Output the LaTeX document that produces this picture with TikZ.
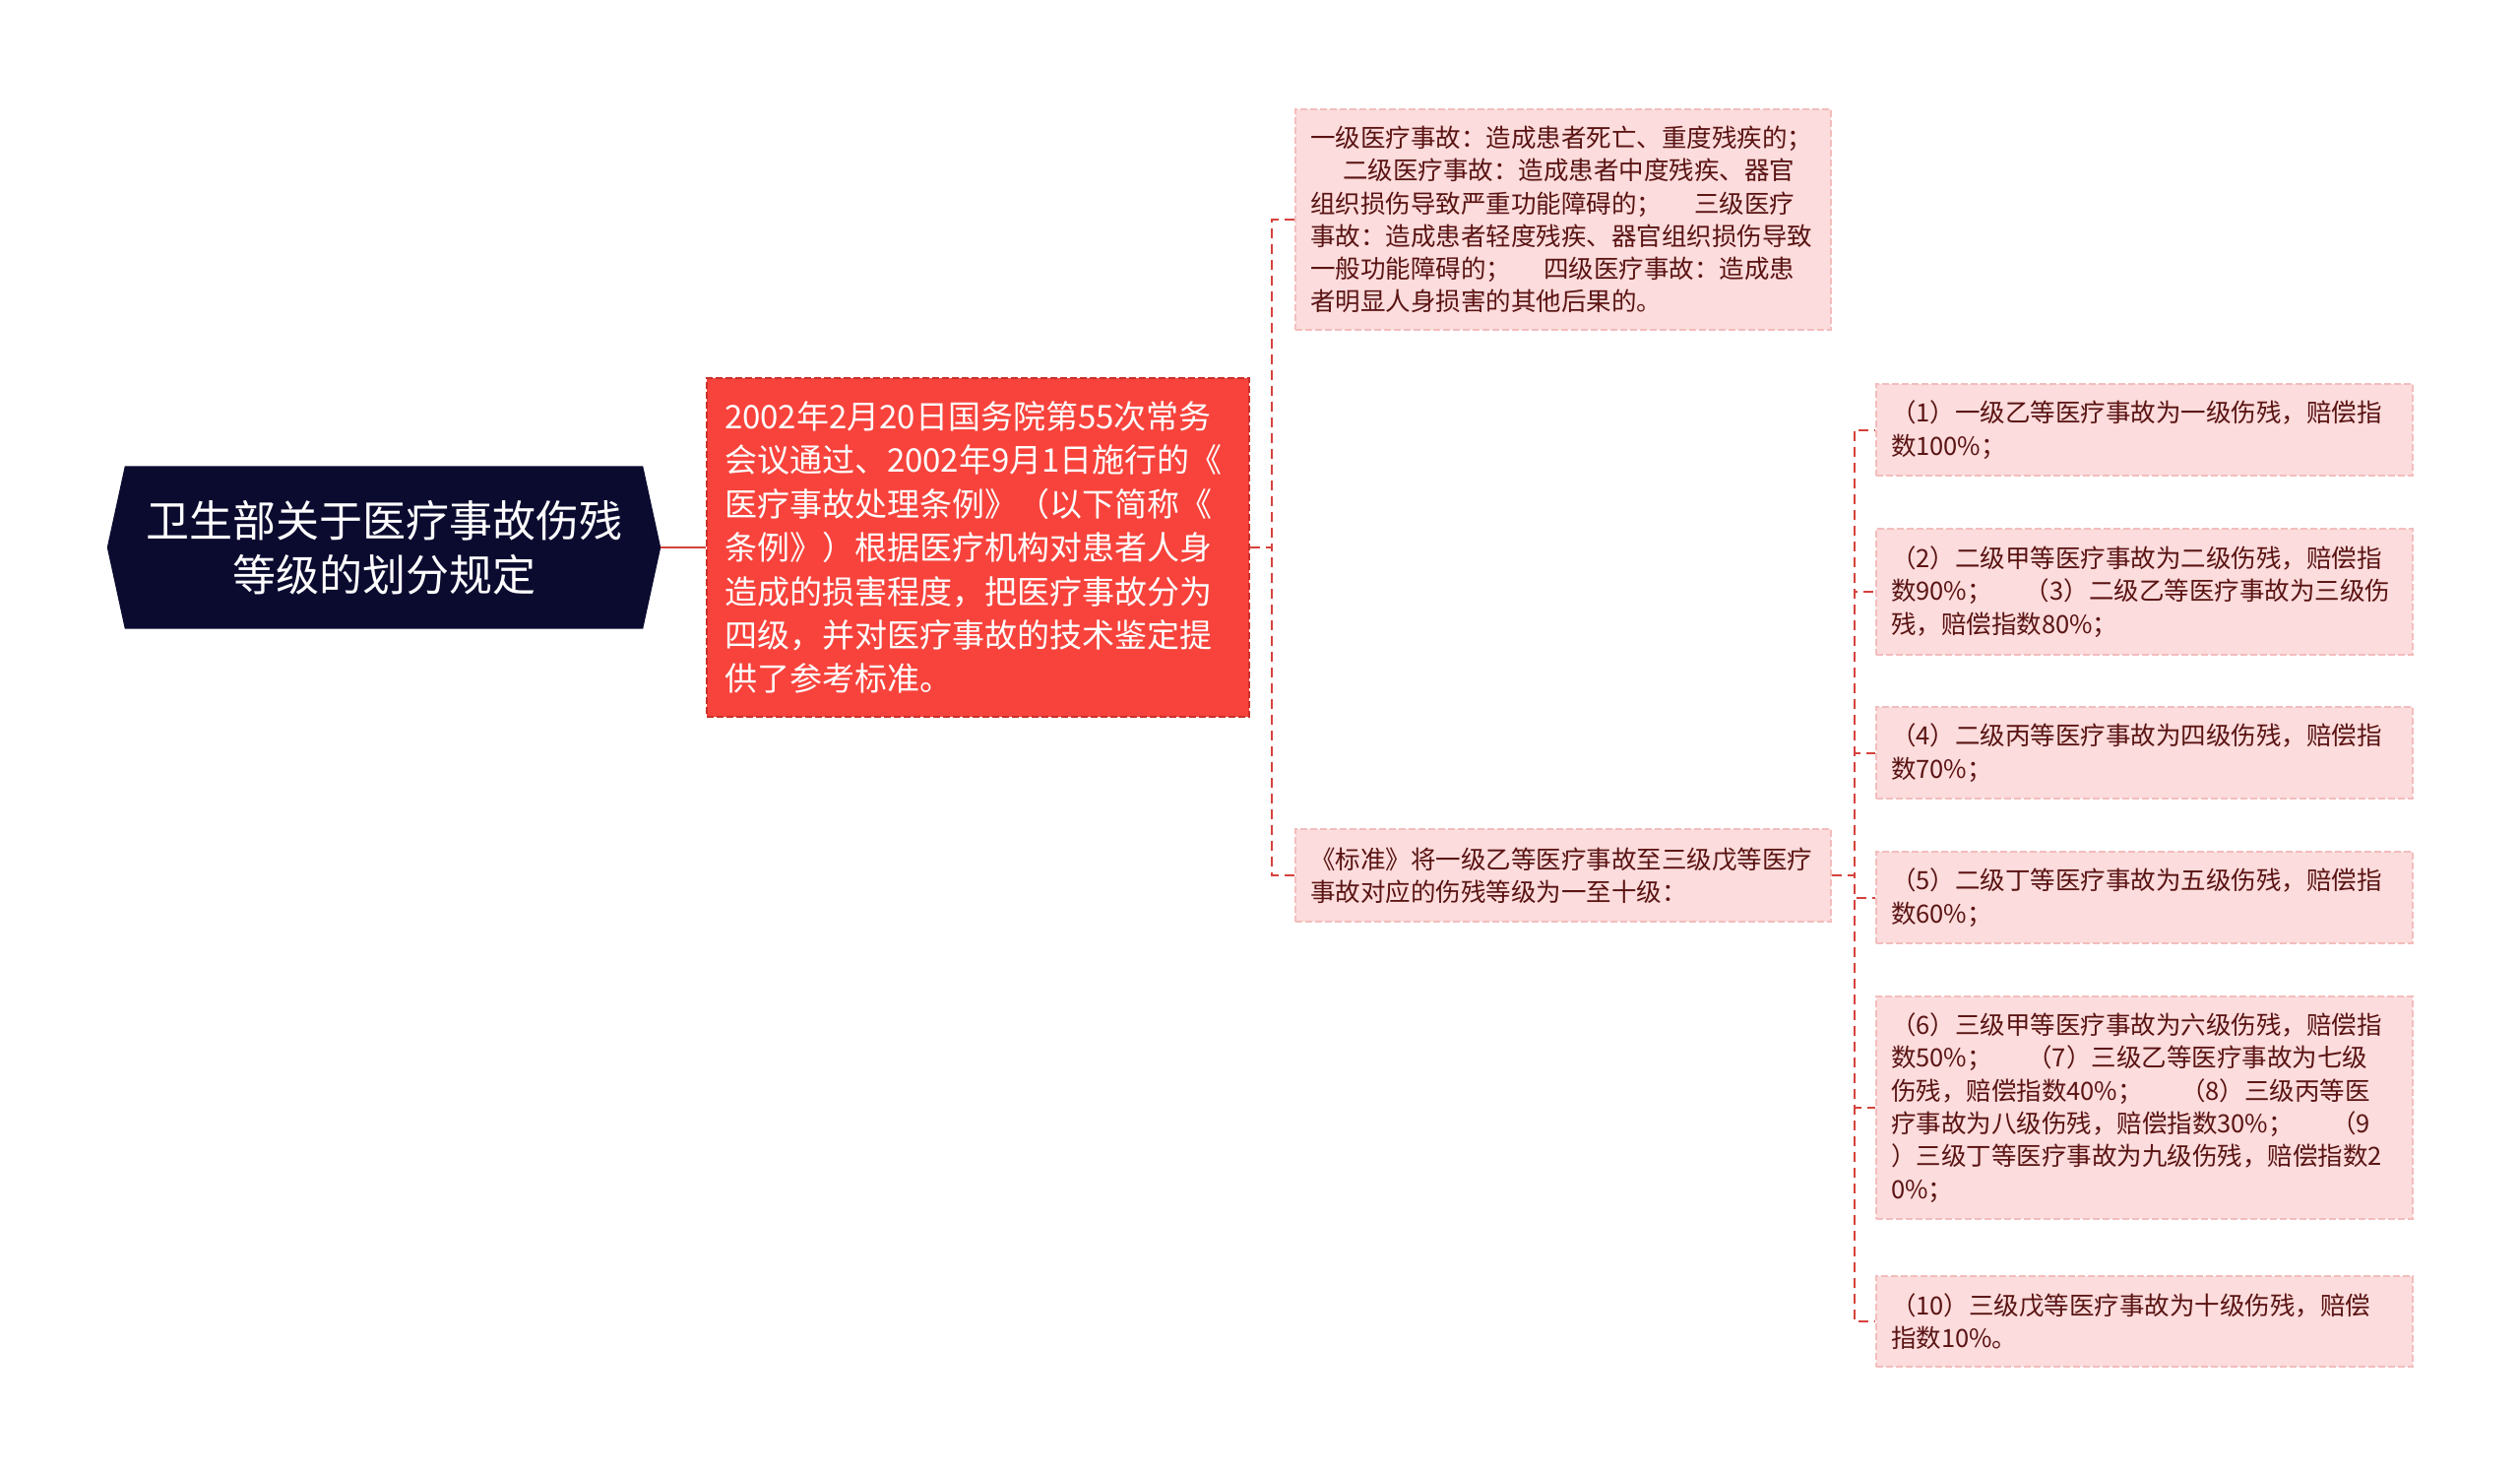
\documentclass[tikz,border=0pt]{standalone}
\usepackage{fontspec}
\setmainfont{Noto Sans CJK SC}
\usetikzlibrary{backgrounds}
\definecolor{navy}{HTML}{0B0B30}
\definecolor{boxred}{HTML}{F7433C}
\definecolor{borderred}{HTML}{C9302A}
\definecolor{pinkfill}{HTML}{FCDCDC}
\definecolor{pinkborder}{HTML}{F3BDBD}
\definecolor{darktext}{HTML}{5A1313}
\definecolor{connred}{HTML}{D6423C}
\begin{document}
\begin{tikzpicture}[x=1pt,y=-1pt,
  rootnode/.style={minimum width=526pt, minimum height=165pt, inner sep=0pt, text=white, align=center,
    font={\fontsize{44}{55.5}\selectfont}},
  redbox/.style={fill=boxred, draw=borderred, line width=1.5pt, dash pattern=on 7pt off 3pt,
    text=white, align=left, inner xsep=18pt, inner ysep=0pt, text width=515pt,
    font={\fontsize{33}{44.4}\selectfont}},
  pinkbox/.style={fill=pinkfill, draw=pinkborder, line width=1.5pt, dash pattern=on 7pt off 3pt,
    text=darktext, align=left, inner xsep=15pt, inner ysep=0pt,
    font={\fontsize{25.5}{33.3}\selectfont}},
  childbox/.style={pinkbox, text width=514pt},
  leafbox/.style={pinkbox, text width=515pt},
  conn/.style={draw=connred, line width=2pt, dash pattern=on 10pt off 6pt},
  solidconn/.style={draw=connred, line width=2.5pt}
]
\useasboundingbox (0,0) rectangle (2560,1497);
\node[rootnode] (root) at (390,556) {卫生部关于医疗事故伤残\\等级的划分规定};
\node[redbox, minimum height=344pt] (red) at (993.5,556) {2002年2月20日国务院第55次常务\\会议通过、2002年9月1日施行的《\\医疗事故处理条例》（以下简称《\\条例》）根据医疗机构对患者人身\\造成的损害程度，把医疗事故分为\\四级，并对医疗事故的技术鉴定提\\供了参考标准。};
\node[childbox, minimum height=224pt] (c1) at (1588,223) {一级医疗事故：造成患者死亡、重度残疾的；\\\hspace*{1.3em}二级医疗事故：造成患者中度残疾、器官\\组织损伤导致严重功能障碍的；\hspace{1.3em}三级医疗\\事故：造成患者轻度残疾、器官组织损伤导致\\一般功能障碍的；\hspace{1.3em}四级医疗事故：造成患\\者明显人身损害的其他后果的。};
\node[childbox, minimum height=94pt] (c2) at (1588,889) {《标准》将一级乙等医疗事故至三级戊等医疗\\事故对应的伤残等级为一至十级：};
\node[leafbox, minimum height=93pt] (l1) at (2178.5,436.5) {（1）一级乙等医疗事故为一级伤残，赔偿指\\数100\%；};
\node[leafbox, minimum height=128pt] (l2) at (2178.5,601) {（2）二级甲等医疗事故为二级伤残，赔偿指\\数90\%；\hspace{1.3em}（3）二级乙等医疗事故为三级伤\\残，赔偿指数80\%；};
\node[leafbox, minimum height=93pt] (l3) at (2178.5,764.5) {（4）二级丙等医疗事故为四级伤残，赔偿指\\数70\%；};
\node[leafbox, minimum height=93pt] (l4) at (2178.5,911.5) {（5）二级丁等医疗事故为五级伤残，赔偿指\\数60\%；};
\node[leafbox, minimum height=226pt] (l5) at (2178.5,1125) {（6）三级甲等医疗事故为六级伤残，赔偿指\\数50\%；\hspace{1.4em}（7）三级乙等医疗事故为七级\\伤残，赔偿指数40\%；\hspace{1.5em}（8）三级丙等医\\疗事故为八级伤残，赔偿指数30\%；\hspace{1.5em}（9\\）三级丁等医疗事故为九级伤残，赔偿指数2\\0\%；};
\node[leafbox, minimum height=92pt] (l6) at (2178.5,1342) {（10）三级戊等医疗事故为十级伤残，赔偿\\指数10\%。};
\begin{scope}[on background layer]
\fill[white] (0,0) rectangle (2560,1497);
\fill[navy] (root.north west) -- (root.north east) -- ([xshift=18pt]root.east) -- (root.south east) -- (root.south west) -- ([xshift=-18pt]root.west) -- cycle;
\end{scope}
\draw[solidconn] ([xshift=18pt]root.east) -- (red.west);
\draw[conn] (red.east) -- ++(22,0) |- (c1.west);
\draw[conn] (red.east) -- ++(22,0) |- (c2.west);
\foreach \n in {l1,l2,l3,l4,l5,l6}{
  \draw[conn] (c2.east) -- ++(23,0) |- (\n.west);
}
\end{tikzpicture}
\end{document}
